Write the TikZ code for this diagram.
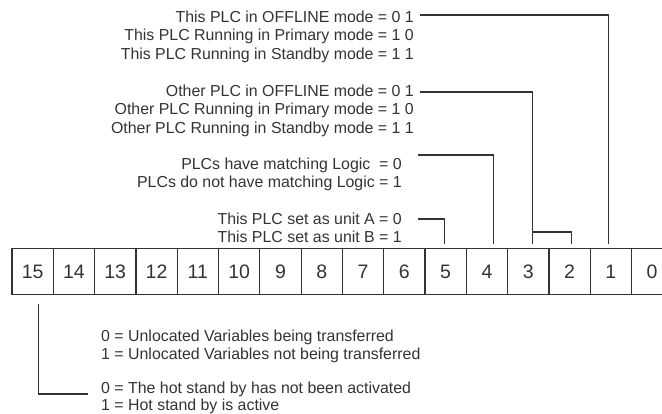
\documentclass[tikz,border=0pt]{standalone}
\usepackage{fontspec}
\setmainfont{Liberation Sans}
\usepackage{xcolor}
\usepackage{tikz}
\usetikzlibrary{positioning}

\definecolor{inkgray}{HTML}{333333}

\begin{document}
\begin{tikzpicture}[
    x=1pt, y=-1pt,
    bit/.style={
        rectangle,
        draw=inkgray,
        line width=1.2pt,
        inner sep=0pt,
        outer sep=0pt,
        minimum width=41.3pt,
        minimum height=46pt,
        font=\fontsize{19.5}{22}\selectfont,
        text=inkgray
    },
    note/.style={
        inner sep=0pt,
        font=\fontsize{15.9}{18.5}\selectfont,
        text=inkgray
    },
    link/.style={draw=inkgray, line width=1.1pt}
]
\useasboundingbox (0,0) rectangle (662,414);

% register bits
\node[bit] (b15) at (32.65,271.5) {15};
\node[bit, right=0pt of b15] (b14) {14};
\node[bit, right=0pt of b14] (b13) {13};
\node[bit, right=0pt of b13] (b12) {12};
\node[bit, right=0pt of b12] (b11) {11};
\node[bit, right=0pt of b11] (b10) {10};
\node[bit, right=0pt of b10] (b9) {9};
\node[bit, right=0pt of b9] (b8) {8};
\node[bit, right=0pt of b8] (b7) {7};
\node[bit, right=0pt of b7] (b6) {6};
\node[bit, right=0pt of b6] (b5) {5};
\node[bit, right=0pt of b5] (b4) {4};
\node[bit, right=0pt of b4] (b3) {3};
\node[bit, right=0pt of b3] (b2) {2};
\node[bit, right=0pt of b2] (b1) {1};
\node[bit, right=0pt of b1] (b0) {0};

% notes above
\node[note, align=right, anchor=north east] (thisplc) at (414,10.3) {
    This PLC in OFFLINE mode = 0 1\\
    This PLC Running in Primary mode = 1 0\\
    This PLC Running in Standby mode = 1 1
};
\node[note, align=right, anchor=north east] (otherplc) at (414,84.3) {
    Other PLC in OFFLINE mode = 0 1\\
    Other PLC Running in Primary mode = 1 0\\
    Other PLC Running in Standby mode = 1 1
};
\node[note, align=right, anchor=north east] (logic) at (402,157.3) {
    PLCs have matching Logic~ = 0\\
    PLCs do not have matching Logic = 1
};
\node[note, align=right, anchor=north east] (unit) at (402,212.3) {
    This PLC set as unit A = 0\\
    This PLC set as unit B = 1
};

% notes below
\node[note, align=left, anchor=north west] (unloc) at (101,329.3) {
    0 = Unlocated Variables being transferred\\
    1 = Unlocated Variables not being transferred
};
\node[note, align=left, anchor=north west, font=\fontsize{15.9}{17}\selectfont] (hotsb) at (101,381.5) {
    0 = The hot stand by has not been activated\\
    1 = Hot stand by is active
};

\coordinate (c-this) at (420,15);
\coordinate (c-other) at (420,92);
\coordinate (c-logic) at (418,155);
\coordinate (c-unit) at (418,219);
\coordinate (c-hotsb) at (88,394);

\draw[link] (c-this) -| ([xshift=-2pt,yshift=4.5pt]b1.north);
\draw[link] (c-other) -| ([xshift=4.5pt,yshift=4.5pt]b3.north);
\draw[link] ([xshift=4.5pt,yshift=16.5pt]b3.north) -| ([xshift=2pt,yshift=4.5pt]b2.north);
\draw[link] (c-logic) -| ([xshift=6.7pt,yshift=4.5pt]b4.north);
\draw[link] (c-unit) -| ([xshift=-1.5pt,yshift=4.5pt]b5.north);
\draw[link] ([xshift=5.6pt,yshift=-10pt]b15.south) |- (c-hotsb);

\end{tikzpicture}
\end{document}
